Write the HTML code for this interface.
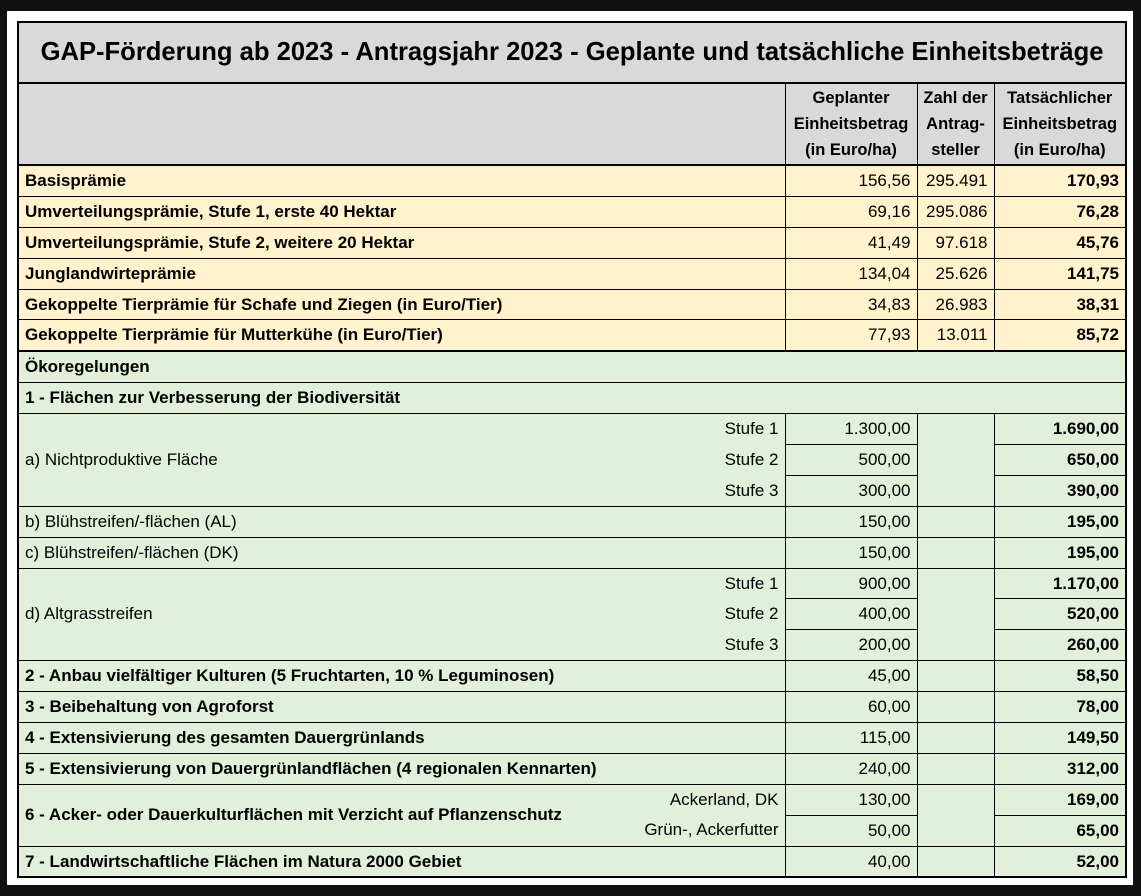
<!DOCTYPE html>
<html><head><meta charset="utf-8"><style>
body{margin:0;background:#111;width:1141px;height:896px;position:relative;overflow:hidden;font-family:"Liberation Sans",Arial,sans-serif;}
.frame{position:absolute;left:7px;top:11px;width:1126px;height:874px;background:#fff;}
table{position:absolute;left:17px;top:21px;border-collapse:collapse;width:1108px;table-layout:fixed;border:2px solid #000;font-size:17px;color:#000;}
td{border:1px solid #000;padding:0 6px;height:29.9px;white-space:nowrap;overflow:hidden;}
.t{background:#d9d9d9;font-weight:bold;font-size:25.6px;text-align:center;height:59px;border-bottom:2px solid #000;}
.h{background:#d9d9d9;font-weight:bold;text-align:center;line-height:26px;height:80px;padding:0 2px;border-bottom:2px solid #000;font-size:16.5px;}
.y td{background:#fff2cc;}
.g td{background:#e2efda;}
.b{font-weight:bold;}
.r{text-align:right;}
.nl{border-right:none;}
.nr{border-left:none;}
.yl td{border-bottom:2px solid #000;}
</style></head><body>
<div class="frame"></div>
<table>
<colgroup><col style="width:560px"><col style="width:207px"><col style="width:132px"><col style="width:77px"><col style="width:132px"></colgroup>
<tr><td class="t" colspan="5">GAP-Förderung ab 2023 - Antragsjahr 2023 - Geplante und tatsächliche Einheitsbeträge</td></tr>
<tr><td class="h" colspan="2"></td><td class="h">Geplanter<br>Einheitsbetrag<br>(in Euro/ha)</td><td class="h">Zahl der<br>Antrag-<br>steller</td><td class="h">Tatsächlicher<br>Einheitsbetrag<br>(in Euro/ha)</td></tr>
<tr class="y"><td colspan="2" class="b">Basisprämie</td><td class="r">156,56</td><td class="r">295.491</td><td class="r b">170,93</td></tr>
<tr class="y"><td colspan="2" class="b">Umverteilungsprämie, Stufe 1, erste 40 Hektar</td><td class="r">69,16</td><td class="r">295.086</td><td class="r b">76,28</td></tr>
<tr class="y"><td colspan="2" class="b">Umverteilungsprämie, Stufe 2, weitere 20 Hektar</td><td class="r">41,49</td><td class="r">97.618</td><td class="r b">45,76</td></tr>
<tr class="y"><td colspan="2" class="b">Junglandwirteprämie</td><td class="r">134,04</td><td class="r">25.626</td><td class="r b">141,75</td></tr>
<tr class="y"><td colspan="2" class="b">Gekoppelte Tierprämie für Schafe und Ziegen (in Euro/Tier)</td><td class="r">34,83</td><td class="r">26.983</td><td class="r b">38,31</td></tr>
<tr class="y yl"><td colspan="2" class="b">Gekoppelte Tierprämie für Mutterkühe (in Euro/Tier)</td><td class="r">77,93</td><td class="r">13.011</td><td class="r b">85,72</td></tr>
<tr class="g"><td colspan="5" class="b">Ökoregelungen</td></tr>
<tr class="g"><td colspan="5" class="b">1 - Flächen zur Verbesserung der Biodiversität</td></tr>
<tr class="g"><td rowspan="3" class="nl">a) Nichtproduktive Fläche</td><td class="r nr" style="border-bottom:none">Stufe 1</td><td class="r">1.300,00</td><td rowspan="3"></td><td class="r b">1.690,00</td></tr>
<tr class="g"><td class="r nr" style="border-top:none;border-bottom:none">Stufe 2</td><td class="r">500,00</td><td class="r b">650,00</td></tr>
<tr class="g"><td class="r nr" style="border-top:none">Stufe 3</td><td class="r">300,00</td><td class="r b">390,00</td></tr>
<tr class="g"><td colspan="2">b) Blühstreifen/-flächen (AL)</td><td class="r">150,00</td><td></td><td class="r b">195,00</td></tr>
<tr class="g"><td colspan="2">c) Blühstreifen/-flächen (DK)</td><td class="r">150,00</td><td></td><td class="r b">195,00</td></tr>
<tr class="g"><td rowspan="3" class="nl">d) Altgrasstreifen</td><td class="r nr" style="border-bottom:none">Stufe 1</td><td class="r">900,00</td><td rowspan="3"></td><td class="r b">1.170,00</td></tr>
<tr class="g"><td class="r nr" style="border-top:none;border-bottom:none">Stufe 2</td><td class="r">400,00</td><td class="r b">520,00</td></tr>
<tr class="g"><td class="r nr" style="border-top:none">Stufe 3</td><td class="r">200,00</td><td class="r b">260,00</td></tr>
<tr class="g"><td colspan="2" class="b">2 - Anbau vielfältiger Kulturen (5 Fruchtarten, 10 % Leguminosen)</td><td class="r">45,00</td><td></td><td class="r b">58,50</td></tr>
<tr class="g"><td colspan="2" class="b">3 - Beibehaltung von Agroforst</td><td class="r">60,00</td><td></td><td class="r b">78,00</td></tr>
<tr class="g"><td colspan="2" class="b">4 - Extensivierung des gesamten Dauergrünlands</td><td class="r">115,00</td><td></td><td class="r b">149,50</td></tr>
<tr class="g"><td colspan="2" class="b">5 - Extensivierung von Dauergrünlandflächen (4 regionalen Kennarten)</td><td class="r">240,00</td><td></td><td class="r b">312,00</td></tr>
<tr class="g"><td rowspan="2" class="nl b">6 - Acker- oder Dauerkulturflächen mit Verzicht auf Pflanzenschutz</td><td class="r nr" style="border-bottom:none">Ackerland, DK</td><td class="r">130,00</td><td rowspan="2"></td><td class="r b">169,00</td></tr>
<tr class="g"><td class="r nr" style="border-top:none">Grün-, Ackerfutter</td><td class="r">50,00</td><td class="r b">65,00</td></tr>
<tr class="g"><td colspan="2" class="b">7 - Landwirtschaftliche Flächen im Natura 2000 Gebiet</td><td class="r">40,00</td><td></td><td class="r b">52,00</td></tr>
</table>
</body></html>
